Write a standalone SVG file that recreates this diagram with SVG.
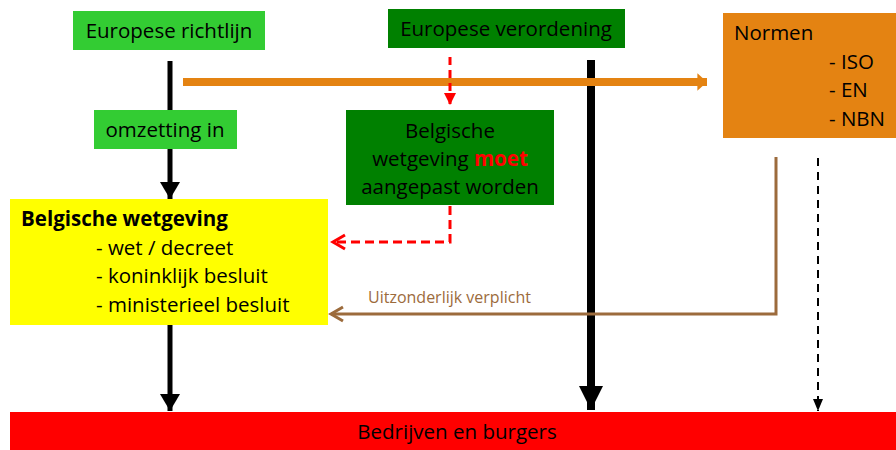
<svg xmlns="http://www.w3.org/2000/svg" width="896" height="450" viewBox="0 0 896 450">
<style>
text{font-family:"Open Sans","Liberation Sans",sans-serif;fill:#000}
.t{font-size:20.5px}
.c{text-anchor:middle}
</style>
<defs>
<marker id="bk" markerWidth="3.4" markerHeight="4" refX="3.4" refY="2" orient="auto" markerUnits="strokeWidth"><path d="M0,0L3.4,2L0,4z" fill="#000"/></marker>
<marker id="bk3" markerWidth="3" markerHeight="3" refX="3" refY="1.5" orient="auto" markerUnits="strokeWidth"><path d="M0,0L3,1.5L0,3z" fill="#000"/></marker>
<marker id="bk2" markerWidth="6" markerHeight="5" refX="6" refY="2.5" orient="auto" markerUnits="strokeWidth"><path d="M0,0L6,2.5L0,5z" fill="#000"/></marker>
<marker id="or" markerWidth="1.2" markerHeight="2.2" refX="1.2" refY="1.1" orient="auto" markerUnits="strokeWidth"><path d="M0,0L1.2,1.1L0,2.2z" fill="#e48312"/></marker>
<marker id="rd" markerWidth="4" markerHeight="4" refX="4" refY="2" orient="auto" markerUnits="strokeWidth"><path d="M0,0L4,2L0,4z" fill="#ff0000"/></marker>
</defs>
<g id="connectors">
<line x1="170" y1="61" x2="170" y2="199" stroke="#000" stroke-width="5" marker-end="url(#bk)"/>
<line x1="170" y1="325" x2="170" y2="411" stroke="#000" stroke-width="5" marker-end="url(#bk)"/>
<line x1="591" y1="60" x2="591" y2="410" stroke="#000" stroke-width="8" marker-end="url(#bk3)"/>
<line x1="183" y1="82" x2="707" y2="82" stroke="#e48312" stroke-width="8" marker-end="url(#or)"/>
<line x1="450" y1="57" x2="450" y2="105" stroke="#ff0000" stroke-width="3" stroke-dasharray="8,5" marker-end="url(#rd)"/>
<polyline points="450,206 450,242 333,242" fill="none" stroke="#ff0000" stroke-width="3" stroke-dasharray="9,5"/>
<polyline points="345,235 333,242 345,249" fill="none" stroke="#ff0000" stroke-width="3"/>
<polyline points="776,157 776,314 331,314" fill="none" stroke="#9c6b3c" stroke-width="3"/>
<polyline points="343,307 331,314 343,321" fill="none" stroke="#9c6b3c" stroke-width="3"/>
<text x="368" y="303" style="font-size:16px;fill:#9c6b3c">Uitzonderlijk verplicht</text>
<line x1="818" y1="158" x2="818" y2="411" stroke="#000" stroke-width="2" stroke-dasharray="8,6" marker-end="url(#bk2)"/>
</g>
<g id="richtlijn"><rect x="73" y="11" width="192" height="39" fill="#33cc33"/><text class="t c" x="169" y="38">Europese richtlijn</text></g>
<g id="verordening"><rect x="388" y="9" width="237" height="39" fill="#008000"/><text class="t c" x="506" y="36">Europese verordening</text></g>
<g id="normen"><rect x="723" y="13" width="173" height="125" fill="#e48312"/><text class="t" x="734" y="40">Normen</text><text class="t" x="829" y="69">- ISO</text><text class="t" x="829" y="97">- EN</text><text class="t" x="829" y="126">- NBN</text></g>
<g id="omzetting"><rect x="94" y="110" width="143" height="39" fill="#33cc33"/><text class="t c" x="165" y="137">omzetting in</text></g>
<g id="aangepast"><rect x="346" y="110" width="208" height="95" fill="#008000"/><text class="t c" x="450" y="138">Belgische</text><text class="t c" x="450" y="166">wetgeving <tspan style="fill:#ff0000;font-weight:bold">moet</tspan></text><text class="t c" x="450" y="194">aangepast worden</text></g>
<g id="belgische"><rect x="10" y="199" width="318" height="126" fill="#ffff00"/><text class="t" x="21" y="226" font-weight="bold">Belgische wetgeving</text><text class="t" x="96" y="255">- wet / decreet</text><text class="t" x="96" y="283">- koninklijk besluit</text><text class="t" x="96" y="312">- ministerieel besluit</text></g>
<g id="bedrijven"><rect x="10" y="412" width="886" height="38" fill="#ff0000"/><text class="t c" x="457" y="439">Bedrijven en burgers</text></g>
</svg>
